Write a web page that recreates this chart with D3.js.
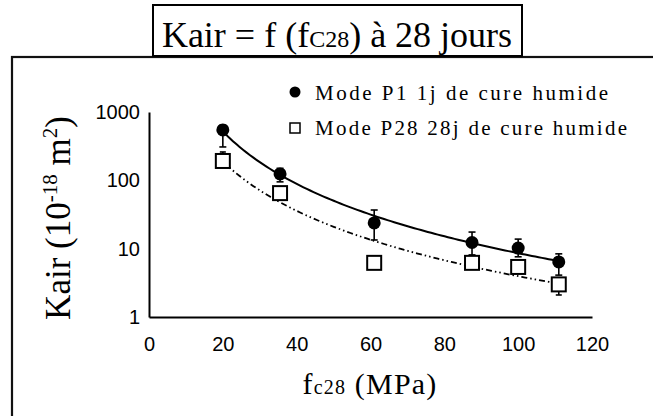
<!DOCTYPE html>
<html>
<head>
<meta charset="utf-8">
<script src="https://cdn.jsdelivr.net/npm/d3@7"></script>
<style>
  body { margin: 0; background: #fff; }
  svg { display: block; }
</style>
</head>
<body>
<script>
// Compressive strength at 28 days (MPa)
const fc = [20, 35.5, 61, 87.5, 100, 111];

// Air permeability, mode P1 (1 day of moist curing), 10^-18 m²
const kairP1 = [546, 124, 23.8, 12.3, 10.2, 6.4];
const errP1Low = [308, 95, 13.4, 8.1, 7.6, 4.1];
const errP1High = [640, 150, 36.8, 17.5, 13.8, 8.4];

// Air permeability, mode P28 (28 days of moist curing), 10^-18 m²
const kairP28 = [192, 65, 6.2, 6.2, 5.4, 3.0];
const errP28Low = [170, 56, 5.4, 5.4, 4.7, 2.1];
const errP28High = [260, 75, 7.2, 7.0, 6.2, 3.5];

const xTicks = [0, 20, 40, 60, 80, 100, 120];
const yTicks = [1, 10, 100, 1000];
const legendLabels = ["Mode P1 1j de cure humide", "Mode P28 28j de cure humide"];

const W = 653, H = 416;
const svg = d3.select("body").append("svg").attr("width", W).attr("height", H);

const serif = "'Liberation Serif', 'Times New Roman', serif";
const sans = "'Liberation Sans', Arial, sans-serif";

const x = d3.scaleLinear().domain([0, 120]).range([149, 592]);
const y = d3.scaleLog().domain([1, 1000]).range([317, 112]);

// Outer frame
svg.append("rect")
  .attr("x", 12).attr("y", 57).attr("width", 700).attr("height", 420)
  .attr("fill", "none").attr("stroke", "#111").attr("stroke-width", 2.2);

// Title box
svg.append("rect")
  .attr("x", 153).attr("y", 5).attr("width", 369).attr("height", 51)
  .attr("fill", "#fff").attr("stroke", "#000").attr("stroke-width", 2);

const title = svg.append("text")
  .attr("x", 337).attr("y", 47)
  .attr("text-anchor", "middle")
  .attr("font-family", serif).attr("font-size", 36).attr("fill", "#000");
title.append("tspan").text("Kair = f (f");
title.append("tspan").attr("font-size", 24).text("C28");
title.append("tspan").text(") à 28 jours");

// Axes (lines only, no tick marks)
const xAxis = d3.axisBottom(x).tickValues(xTicks).tickSize(0).tickPadding(20);
const gx = svg.append("g").attr("transform", `translate(0,${y(1)})`).call(xAxis);
gx.select(".domain").attr("stroke", "#000").attr("stroke-width", 2);
gx.selectAll("text").attr("font-family", sans).attr("font-size", 20).attr("fill", "#000");

const yAxis = d3.axisLeft(y).tickValues(yTicks).tickFormat(d3.format("d")).tickSize(0).tickPadding(9);
const gy = svg.append("g").attr("transform", `translate(${x(0)},0)`).call(yAxis);
gy.select(".domain").attr("stroke", "#000").attr("stroke-width", 2);
gy.selectAll("text").attr("font-family", sans).attr("font-size", 20).attr("fill", "#000");

// Axis titles
const xt = svg.append("text")
  .attr("x", 370).attr("y", 394)
  .attr("text-anchor", "middle")
  .attr("font-family", serif).attr("font-size", 30).attr("letter-spacing", 1.2).attr("fill", "#000");
xt.append("tspan").text("f");
xt.append("tspan").attr("font-size", 20).text("c28");
xt.append("tspan").text(" (MPa)");

const yt = svg.append("text")
  .attr("transform", "translate(70,218) rotate(-90)")
  .attr("text-anchor", "middle")
  .attr("font-family", serif).attr("font-size", 35).attr("fill", "#000");
yt.append("tspan").text("Kair (10");
yt.append("tspan").attr("font-size", 21).attr("dy", -13).text("-18");
yt.append("tspan").attr("dy", 13).text(" m");
yt.append("tspan").attr("font-size", 21).attr("dy", -13).text("2");
yt.append("tspan").attr("dy", 13).text(")");

// Power-law trend (least squares on log-log), as a spreadsheet would fit
function powerFit(xs, ys) {
  const lx = xs.map(Math.log10), ly = ys.map(Math.log10);
  const mx = d3.mean(lx), my = d3.mean(ly);
  const b = d3.sum(lx, (v, i) => (v - mx) * (ly[i] - my)) / d3.sum(lx, v => (v - mx) ** 2);
  const a = my - b * mx;
  return v => Math.pow(10, a + b * Math.log10(v));
}

function trendPath(xs, ys) {
  const f = powerFit(xs, ys);
  const lo = d3.min(xs), hi = d3.max(xs);
  const pts = d3.range(0, 101).map(i => lo + (hi - lo) * i / 100);
  return d3.line().x(d => x(d)).y(d => y(f(d)))(pts);
}

svg.append("path")
  .attr("d", trendPath(fc, kairP28))
  .attr("fill", "none").attr("stroke", "#000").attr("stroke-width", 1.8)
  .attr("stroke-dasharray", "6,3,1.5,3,1.5,3");

svg.append("path")
  .attr("d", trendPath(fc, kairP1))
  .attr("fill", "none").attr("stroke", "#000").attr("stroke-width", 2);

// Error bars
function errorBars(lows, highs, cap) {
  const g = svg.append("g").attr("stroke", "#000").attr("stroke-width", 1.6);
  fc.forEach((v, i) => {
    const cx = x(v);
    g.append("line").attr("x1", cx).attr("x2", cx).attr("y1", y(lows[i])).attr("y2", y(highs[i]));
    g.append("line").attr("x1", cx - cap).attr("x2", cx + cap).attr("y1", y(lows[i])).attr("y2", y(lows[i]));
    g.append("line").attr("x1", cx - cap).attr("x2", cx + cap).attr("y1", y(highs[i])).attr("y2", y(highs[i]));
  });
}
errorBars(errP28Low, errP28High, 3);
errorBars(errP1Low, errP1High, 3.5);

// P28 markers: open squares
const sq = 14;
svg.append("g").selectAll("rect").data(fc).join("rect")
  .attr("x", d => x(d) - sq / 2)
  .attr("y", (d, i) => y(kairP28[i]) - sq / 2)
  .attr("width", sq).attr("height", sq)
  .attr("fill", "#fff").attr("stroke", "#000").attr("stroke-width", 2);

// P1 markers: filled circles
svg.append("g").selectAll("circle").data(fc).join("circle")
  .attr("cx", d => x(d))
  .attr("cy", (d, i) => y(kairP1[i]))
  .attr("r", 6.5)
  .attr("fill", "#000");

// Legend
const leg = svg.append("g");
leg.append("circle").attr("cx", 295).attr("cy", 92).attr("r", 5.5).attr("fill", "#000");
leg.append("rect").attr("x", 290).attr("y", 123).attr("width", 10).attr("height", 10)
  .attr("fill", "#fff").attr("stroke", "#000").attr("stroke-width", 1.5);
leg.selectAll("text").data(legendLabels).join("text")
  .attr("x", 315)
  .attr("y", (d, i) => 100 + i * 35)
  .attr("font-family", serif).attr("font-size", 21).attr("fill", "#000")
  .attr("textLength", (d, i) => i === 0 ? 293 : 312)
  .attr("lengthAdjust", "spacing")
  .text(d => d);
</script>
</body>
</html>
